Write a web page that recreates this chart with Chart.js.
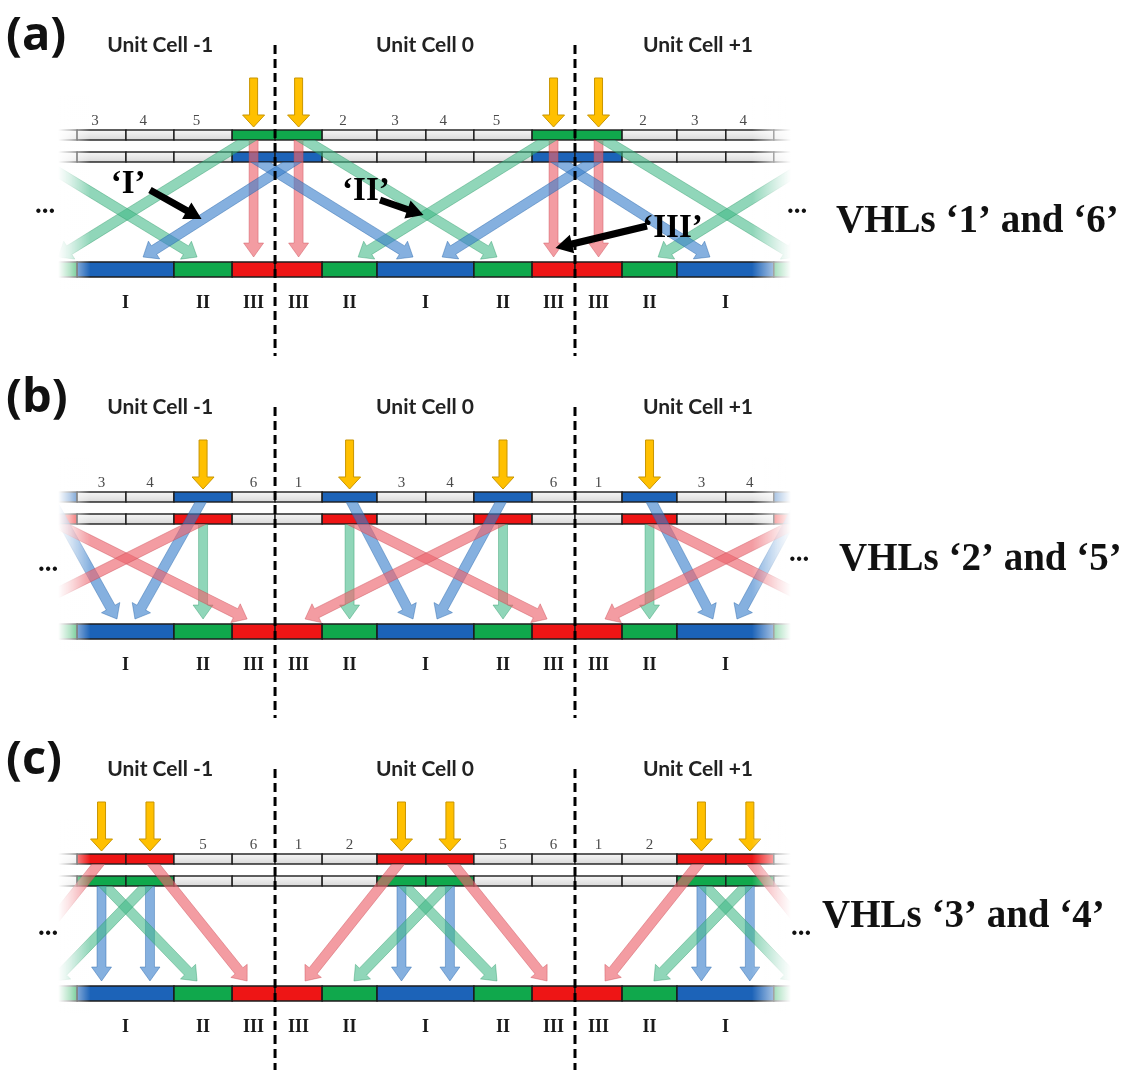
<!DOCTYPE html>
<html>
<head>
<meta charset="utf-8">
<title>VHL emission pathways</title>
<script src="https://cdn.jsdelivr.net/npm/chart.js@4.4.1/dist/chart.umd.min.js"></script>
<style>
  html, body { margin: 0; padding: 0; background: #ffffff; }
  #figure { position: relative; width: 1132px; height: 1070px; overflow: hidden; }
  #figure canvas { position: absolute; left: 0; }
</style>
</head>
<body>
<div id="figure">
  <canvas id="panelA" width="1132" height="362" style="top:0px"></canvas>
  <canvas id="panelB" width="1132" height="362" style="top:362px"></canvas>
  <canvas id="panelC" width="1132" height="346" style="top:724px"></canvas>
</div>
<script>
// ---------- figure content ----------
const panelTags = ['(a)', '(b)', '(c)'];
const panelCaptions = ['VHLs \u20181\u2019 and \u20186\u2019', 'VHLs \u20182\u2019 and \u20185\u2019', 'VHLs \u20183\u2019 and \u20184\u2019'];
const unitCells = [-1, 0, 1];
const unitCellNames = ['Unit Cell -1', 'Unit Cell 0', 'Unit Cell +1'];
const vhlNumbers = [1, 2, 3, 4, 5, 6];
// VHL boundaries inside one unit cell, in unit-cell fractions
const vhlEdges = [0, 0.157, 0.34, 0.503, 0.663, 0.857, 1];
// emission band sitting under each VHL
const vhlBand = ['III', 'II', 'I', 'I', 'II', 'III'];
// excited VHL pair of each panel
const excitedVhls = [[1, 6], [2, 5], [3, 4]];
// band carried by the [upper, lower] strip of the excited VHLs
const excitedRowBands = [['II', 'I'], ['I', 'III'], ['III', 'II']];
// straight-down emission of each panel, and the strip it leaves from
const verticalBands = ['III', 'II', 'I'];
const verticalFromRow = [0, 1, 1];

// oblique emission: [source cell, source VHL, landing position in unit cells]
const arrowsA_II  = [[0, 1, 0.74], [0, 6, 0.277], [-1, 6, -0.723], [1, 1, 1.74], [-1, 1, -0.26], [1, 6, 1.277]];
const arrowsA_I   = [[-1, 6, 0.46], [0, 1, -0.44], [0, 6, 1.45], [1, 1, 0.557]];
const arrowsB_I   = [[-1, 2, -0.527], [-1, 5, -0.467], [0, 2, 0.46], [0, 5, 0.54], [1, 2, 1.46], [1, 5, 1.54]];
const arrowsB_III = [[-1, 2, -0.093], [-1, 5, -0.9], [0, 2, 0.907], [0, 5, 0.1], [1, 2, 1.907], [1, 5, 1.1]];
const arrowsC_III = [[-1, 3, -0.9], [-1, 4, -0.093], [0, 3, 0.1], [0, 4, 0.907], [1, 3, 1.1], [1, 4, 1.907]];
const arrowsC_II  = [[-1, 3, -0.26], [-1, 4, -0.737], [0, 3, 0.74], [0, 4, 0.263], [1, 3, 1.74], [1, 4, 1.263]];

// quoted callouts of panel (a)
const calloutTexts = ['\u2018I\u2019', '\u2018II\u2019', '\u2018III\u2019'];

// ---------- drawing setup ----------
const obliqueSets = [
  [{ band: 'II', row: 0, list: arrowsA_II }, { band: 'I', row: 1, list: arrowsA_I }],
  [{ band: 'I', row: 0, list: arrowsB_I }, { band: 'III', row: 1, list: arrowsB_III }],
  [{ band: 'III', row: 0, list: arrowsC_III }, { band: 'II', row: 1, list: arrowsC_II }]
];

const palette = {
  solid: { I: '#1c63b8', II: '#10a84c', III: '#ee1515' },
  glow:  { I: 'rgba(58,128,204,0.62)', II: 'rgba(64,184,134,0.58)', III: 'rgba(236,100,110,0.64)' },
  glowEdge: { I: 'rgba(40,100,170,0.55)', II: 'rgba(40,150,100,0.5)', III: 'rgba(200,70,80,0.5)' },
  strip: ['#f6f6f6', '#d9d9d9'],
  outline: '#1c1c1c',
  pump: '#ffc000',
  pumpEdge: '#c99500',
  ink: '#111111',
  soft: '#4a4a4a'
};

const layout = {
  xMin: -0.917, xMax: 2.857,
  heights: [362, 362, 346],
  cellsDrawn: [-2, -1, 0, 1, 2],
  visibleFrom: -0.723, visibleTo: 1.72,
  fadeInTo: -0.615, fadeOutFrom: 1.59,
  labelFrom: -0.66, labelTo: 1.62,
  fadeBand: [95, 290],
  pump: [78, 127],
  rows: [[130, 140], [152, 162]],
  tipY: 257,
  bar: [262, 277],
  divider: [45, 356],
  cellLabelX: [-0.383, 0.5, 1.41],
  cellLabelBase: 52,
  tagBase: 50,
  numberBase: 125,
  numberShift: [-0.022, 0, 0],
  bandLabelBase: 308,
  captionX: [836, 839, 822],
  captionBase: [232, 208, 203],
  dotsLeft: [[45, 213], [48, 209], [48, 211]],
  dotsRight: [[797, 213], [799, 199], [801, 211]],
  callouts: [
    { at: [-0.49, 193], from: [-0.417, 190], to: [-0.245, 219] },
    { at: [0.303, 200], from: [0.35, 200], to: [0.495, 215] },
    { at: [1.325, 237], from: [1.24, 226], to: [0.935, 248] }
  ]
};

const fonts = {
  tag: 'bold 47px "Open Sans"',
  cell: 'bold 21px Lato',
  number: '15px "Liberation Serif"',
  band: 'bold 18px "Liberation Serif"',
  caption: 'bold 39px "Liberation Serif"',
  callout: 'bold 33px "Liberation Serif"',
  dots: 'bold 27px "Liberation Serif"'
};

function arrowShape(ctx, x1, y1, x2, y2, shaft, head, headLen) {
  const dx = x2 - x1, dy = y2 - y1, len = Math.hypot(dx, dy);
  const ux = dx / len, uy = dy / len, nx = -uy, ny = ux;
  const bx = x2 - ux * headLen, by = y2 - uy * headLen;
  ctx.beginPath();
  ctx.moveTo(x1 + nx * shaft / 2, y1 + ny * shaft / 2);
  ctx.lineTo(bx + nx * shaft / 2, by + ny * shaft / 2);
  ctx.lineTo(bx + nx * head / 2, by + ny * head / 2);
  ctx.lineTo(x2, y2);
  ctx.lineTo(bx - nx * head / 2, by - ny * head / 2);
  ctx.lineTo(bx - nx * shaft / 2, by - ny * shaft / 2);
  ctx.lineTo(x1 - nx * shaft / 2, y1 - ny * shaft / 2);
  ctx.closePath();
}

function bandSegments() {
  const segs = [];
  vhlBand.forEach((b, k) => {
    const last = segs[segs.length - 1];
    if (last && last.band === b) last.to = vhlEdges[k + 1];
    else segs.push({ band: b, from: vhlEdges[k], to: vhlEdges[k + 1] });
  });
  return segs;
}

function vhlCentre(cell, n) {
  return cell + (vhlEdges[n - 1] + vhlEdges[n]) / 2;
}

function panelPlugin(p) {
  return {
    id: 'vhlPanel',
    beforeDatasetsDraw(chart) {
      const ctx = chart.ctx, xs = chart.scales.x, ys = chart.scales.y;
      const X = v => xs.getPixelForValue(v), Y = v => ys.getPixelForValue(v);
      const left = X(layout.visibleFrom), right = X(layout.visibleTo);
      ctx.save();
      ctx.beginPath();
      ctx.rect(left, 0, right - left, chart.height);
      ctx.clip();

      // the two VHL strips
      layout.rows.forEach((row, r) => {
        const top = Y(row[0]), bot = Y(row[1]);
        const g = ctx.createLinearGradient(0, top, 0, bot);
        g.addColorStop(0, palette.strip[0]);
        g.addColorStop(1, palette.strip[1]);
        layout.cellsDrawn.forEach(c => {
          vhlNumbers.forEach((n, k) => {
            const x0 = X(c + vhlEdges[k]), x1 = X(c + vhlEdges[k + 1]);
            const hot = excitedVhls[p].includes(n);
            ctx.fillStyle = hot ? palette.solid[excitedRowBands[p][r]] : g;
            ctx.fillRect(x0, top, x1 - x0, bot - top);
            ctx.lineWidth = 1.4;
            ctx.strokeStyle = palette.outline;
            ctx.strokeRect(x0, top, x1 - x0, bot - top);
          });
        });
      });

      // emission band bar
      const segs = bandSegments();
      const bt = Y(layout.bar[0]), bb = Y(layout.bar[1]);
      layout.cellsDrawn.forEach(c => {
        segs.forEach(s => {
          const x0 = X(c + s.from), x1 = X(c + s.to);
          ctx.fillStyle = palette.solid[s.band];
          ctx.fillRect(x0, bt, x1 - x0, bb - bt);
          ctx.lineWidth = 1.5;
          ctx.strokeStyle = palette.outline;
          ctx.strokeRect(x0, bt, x1 - x0, bb - bt);
        });
      });

      const tip = Y(layout.tipY);
      const labelL = X(layout.labelFrom), labelR = X(layout.labelTo);

      // straight-down emission under each excited VHL
      const vRow = layout.rows[verticalFromRow[p]];
      const vb = verticalBands[p];
      ctx.save();
      ctx.beginPath();
      ctx.rect(left, Y(vRow[1]), right - left, chart.height);
      ctx.clip();
      unitCells.forEach(c => {
        excitedVhls[p].forEach(n => {
          const px = X(vhlCentre(c, n));
          if (px < labelL || px > labelR) return;
          arrowShape(ctx, px, Y(vRow[1]) - 4, px, tip, 9, 20, 14);
          ctx.fillStyle = palette.glow[vb];
          ctx.fill();
          ctx.lineWidth = 0.8;
          ctx.strokeStyle = palette.glowEdge[vb];
          ctx.stroke();
        });
      });
      ctx.restore();

      // oblique emission
      obliqueSets[p].forEach(set => {
        const row = layout.rows[set.row];
        ctx.save();
        ctx.beginPath();
        ctx.rect(left, Y(row[1]), right - left, chart.height);
        ctx.clip();
        set.list.forEach(([cell, n, land]) => {
          const sx = X(vhlCentre(cell, n)), ex = X(land);
          const sy = Y(row[1]) - 4;
          arrowShape(ctx, sx, sy, ex, tip, 10, 21, 13);
          ctx.fillStyle = palette.glow[set.band];
          ctx.fill();
          ctx.lineWidth = 0.8;
          ctx.strokeStyle = palette.glowEdge[set.band];
          ctx.stroke();
        });
        ctx.restore();
      });

      ctx.restore();

      // pump arrows above the excited VHLs
      unitCells.forEach(c => {
        excitedVhls[p].forEach(n => {
          const px = X(vhlCentre(c, n));
          if (px < labelL || px > labelR) return;
          arrowShape(ctx, px, Y(layout.pump[0]), px, Y(layout.pump[1]), 8, 22, 12);
          ctx.fillStyle = palette.pump;
          ctx.fill();
          ctx.lineWidth = 1;
          ctx.strokeStyle = palette.pumpEdge;
          ctx.stroke();
        });
      });
    },

    afterDatasetsDraw(chart) {
      const ctx = chart.ctx, xs = chart.scales.x, ys = chart.scales.y;
      const X = v => xs.getPixelForValue(v), Y = v => ys.getPixelForValue(v);
      const left = X(layout.visibleFrom), right = X(layout.visibleTo);
      const fTop = Y(layout.fadeBand[0]), fBot = Y(layout.fadeBand[1]);

      // soft fade at both open ends of the chain
      ctx.save();
      const gl = ctx.createLinearGradient(left, 0, X(layout.fadeInTo), 0);
      gl.addColorStop(0, 'rgba(255,255,255,1)');
      gl.addColorStop(0.35, 'rgba(255,255,255,0.7)');
      gl.addColorStop(1, 'rgba(255,255,255,0)');
      ctx.fillStyle = gl;
      ctx.fillRect(left - 1, fTop, X(layout.fadeInTo) - left + 1, fBot - fTop);
      const gr = ctx.createLinearGradient(X(layout.fadeOutFrom), 0, right, 0);
      gr.addColorStop(0, 'rgba(255,255,255,0)');
      gr.addColorStop(0.65, 'rgba(255,255,255,0.7)');
      gr.addColorStop(1, 'rgba(255,255,255,1)');
      ctx.fillStyle = gr;
      ctx.fillRect(X(layout.fadeOutFrom), fTop, right - X(layout.fadeOutFrom) + 1, fBot - fTop);
      ctx.restore();

      ctx.save();
      ctx.textBaseline = 'alphabetic';
      const labelL = X(layout.labelFrom), labelR = X(layout.labelTo);

      // panel tag
      ctx.fillStyle = palette.ink;
      ctx.font = fonts.tag;
      ctx.textAlign = 'left';
      ctx.fillText(panelTags[p], chart.chartArea.left + 6, Y(layout.tagBase));

      // unit cell names
      ctx.font = fonts.cell;
      ctx.textAlign = 'center';
      ctx.fillStyle = '#222222';
      unitCellNames.forEach((name, i) => {
        ctx.fillText(name, X(layout.cellLabelX[i]), Y(layout.cellLabelBase));
      });

      // VHL numbers over the unexcited sites
      ctx.font = fonts.number;
      ctx.fillStyle = palette.soft;
      unitCells.forEach(c => {
        vhlNumbers.forEach(n => {
          if (excitedVhls[p].includes(n)) return;
          const u = vhlCentre(c, n);
          const px = X(u);
          if (px < labelL || px > labelR) return;
          ctx.fillText(String(n), X(u + layout.numberShift[p]), Y(layout.numberBase));
        });
      });

      // band names under the bar
      ctx.font = fonts.band;
      ctx.fillStyle = '#1a1a1a';
      const segs = bandSegments();
      unitCells.forEach(c => {
        segs.forEach(s => {
          const px = X(c + (s.from + s.to) / 2);
          if (px < labelL || px > labelR) return;
          ctx.fillText(s.band, px, Y(layout.bandLabelBase));
        });
      });

      // continuation dots
      ctx.font = fonts.dots;
      ctx.fillStyle = palette.ink;
      [layout.dotsLeft[p], layout.dotsRight[p]].forEach(([dx, dy]) => {
        ctx.fillText('...', chart.chartArea.left + dx, Y(dy));
      });

      // caption
      ctx.font = fonts.caption;
      ctx.textAlign = 'left';
      ctx.fillText(panelCaptions[p], chart.chartArea.left + layout.captionX[p], Y(layout.captionBase[p]));

      // callouts (panel a)
      if (p === 0) {
        layout.callouts.forEach((co, i) => {
          arrowShape(ctx, X(co.from[0]), Y(co.from[1]), X(co.to[0]), Y(co.to[1]), 7, 19, 17);
          ctx.fillStyle = '#000000';
          ctx.fill();
          ctx.font = fonts.callout;
          ctx.textAlign = 'center';
          ctx.fillText(calloutTexts[i], X(co.at[0]), Y(co.at[1]));
        });
      }
      ctx.restore();
    }
  };
}

function buildPanel(p, canvasId) {
  const H = layout.heights[p];
  // cell boundaries between consecutive unit cells
  const boundaries = unitCells.slice(0, -1).map(c => c + 1);
  return new Chart(document.getElementById(canvasId), {
    type: 'scatter',
    data: {
      datasets: boundaries.map(u => ({
        label: 'cell boundary ' + u,
        data: [{ x: u, y: layout.divider[0] }, { x: u, y: layout.divider[1] }],
        showLine: true,
        borderColor: '#000000',
        borderWidth: 3,
        borderDash: [9, 5],
        pointRadius: 0,
        pointHoverRadius: 0,
        fill: false
      }))
    },
    options: {
      responsive: false,
      animation: false,
      events: [],
      layout: { padding: 0 },
      plugins: { legend: { display: false }, tooltip: { enabled: false }, title: { display: false } },
      scales: {
        x: { type: 'linear', min: layout.xMin, max: layout.xMax, display: false },
        y: { type: 'linear', min: 0, max: H, reverse: true, display: false }
      }
    },
    plugins: [panelPlugin(p)]
  });
}

buildPanel(0, 'panelA');
buildPanel(1, 'panelB');
buildPanel(2, 'panelC');
</script>
</body>
</html>
